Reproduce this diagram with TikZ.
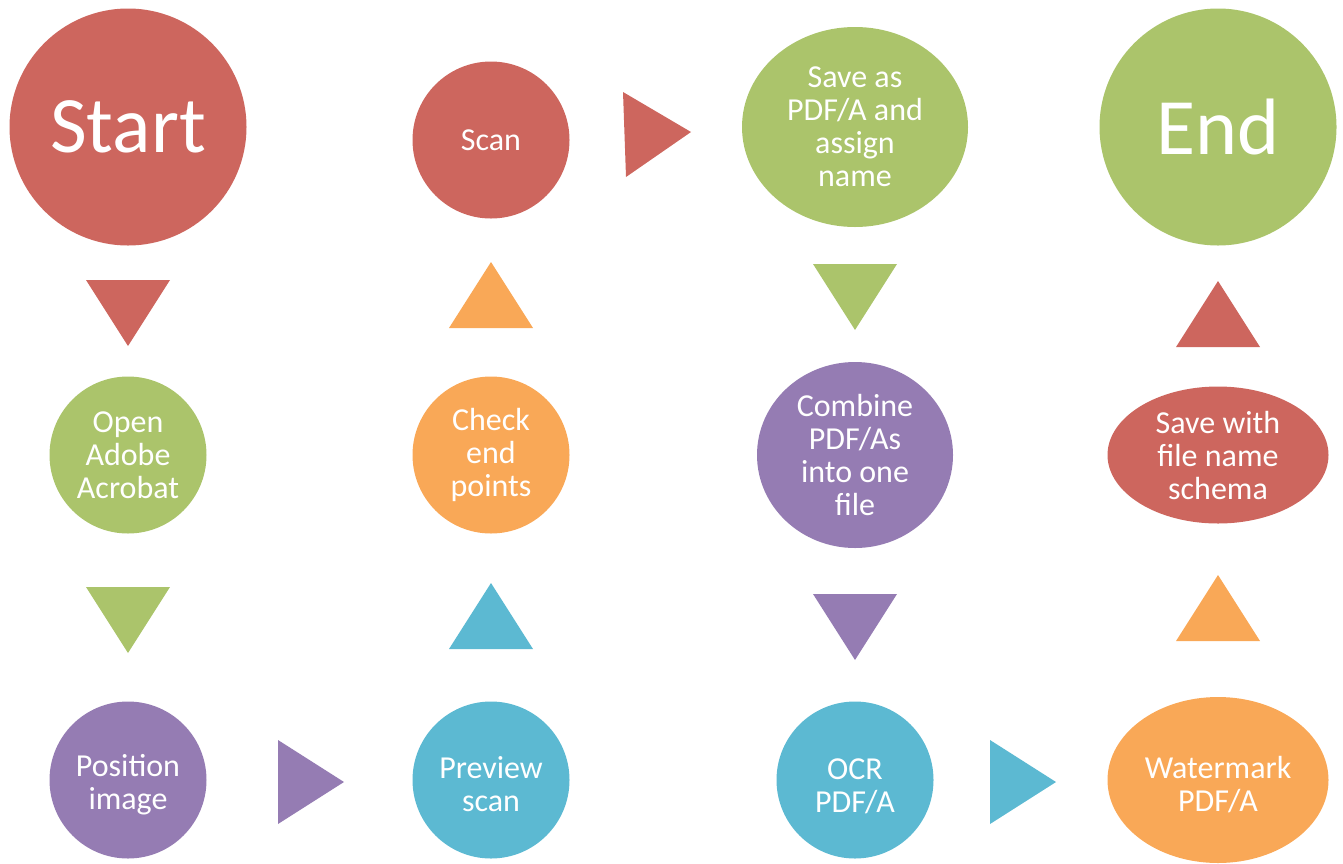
\documentclass[tikz,border=0pt]{standalone}
\usepackage{fontspec}
\setmainfont{Carlito}
\usetikzlibrary{shapes.geometric}
\definecolor{cred}{HTML}{CD665E}
\definecolor{cgreen}{HTML}{ABC46B}
\definecolor{cpurple}{HTML}{957CB3}
\definecolor{cblue}{HTML}{5CB9D2}
\definecolor{corange}{HTML}{F9A857}
\newcommand\lowr{\rule{0pt}{31pt}}
\tikzset{
  bub/.style={circle, inner sep=0pt, text=white, align=center,
    font=\fontsize{32}{33}\selectfont, minimum size=#1},
  ell/.style={ellipse, inner sep=0pt, text=white, align=center,
    font=\fontsize{32}{33}\selectfont},
  big/.style={font=\fontsize{80}{90}\selectfont}
}
\begin{document}
\begin{tikzpicture}[x=1pt,y=-1pt]
\useasboundingbox (0,0) rectangle (1343,863);
% nodes
\node[bub=237pt, fill=cred, big] (start) at (128,127) {Start};
\node[bub=157pt, fill=cred] (scan) at (491,140) {Scan};
\node[ell, fill=cgreen, minimum width=226pt, minimum height=200pt] (save) at (855,127) {Save as\\PDF/A and\\assign\\name};
\node[bub=237pt, fill=cgreen, big] (end) at (1218,127) {End};
\node[bub=157pt, fill=cgreen] (open) at (128,455) {Open\\Adobe\\Acrobat};
\node[bub=157pt, fill=corange] (check) at (491,455) {Check\\end\\points};
\node[ell, fill=cpurple, minimum width=196pt, minimum height=186pt] (combine) at (855,455) {Combine\\PDF/As\\into one\\file};
\node[ell, fill=cred, minimum width=221pt, minimum height=137pt] (schema) at (1218,455) {Save with\\file name\\schema};
\node[bub=157pt, fill=cpurple] (pos) at (128,780) {\lowr Position\\image};
\node[bub=157pt, fill=cblue] (prev) at (491,780) {\lowr Preview\\scan};
\node[bub=157pt, fill=cblue] (ocr) at (855,780) {\rule{0pt}{33pt}OCR\\PDF/A};
\node[ell, fill=corange, minimum width=221pt, minimum height=166pt] (water) at (1218,780) {\lowr Watermark\\PDF/A};
% arrows (triangles)
\fill[cred] (86,280) -- (170,280) -- (128,346) -- cycle;
\fill[cgreen] (86,587) -- (170,587) -- (128,653) -- cycle;
\fill[cpurple] (278,740) -- (278,824) -- (344,782) -- cycle;
\fill[cblue] (449,649) -- (533,649) -- (491,583) -- cycle;
\fill[corange] (449,328) -- (533,328) -- (491,262) -- cycle;
\fill[cred] (623,92) -- (626,177) -- (691,132) -- cycle;
\fill[cgreen] (813,264) -- (897,264) -- (855,330) -- cycle;
\fill[cpurple] (813,594) -- (897,594) -- (855,660) -- cycle;
\fill[cblue] (990,740) -- (990,824) -- (1056,782) -- cycle;
\fill[corange] (1176,641) -- (1260,641) -- (1218,575) -- cycle;
\fill[cred] (1176,347) -- (1260,347) -- (1218,281) -- cycle;
\end{tikzpicture}
\end{document}
